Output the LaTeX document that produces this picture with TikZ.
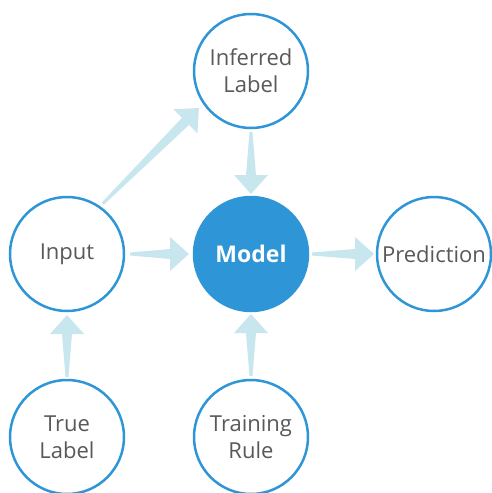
\documentclass[tikz,border=0pt]{standalone}
\usepackage{fontspec}
\setmainfont{Open Sans}
\usetikzlibrary{calc}

\definecolor{ringblue}{HTML}{2E96D6}
\definecolor{arrowfill}{HTML}{C8E6EE}
\definecolor{labelgray}{HTML}{595959}

% tapered block arrow between two circle nodes
% [perpendicular offset]{from}{to}{tail gap from centre}{tip gap from centre}
\newcommand\flowarrow[5][0]{%
  \pgfmathsetmacro\faTL{#1+1.5}\pgfmathsetmacro\faTR{#1-1.5}%
  \pgfmathsetmacro\faSL{#1+5}\pgfmathsetmacro\faSR{#1-5}%
  \pgfmathsetmacro\faHL{#1+17}\pgfmathsetmacro\faHR{#1-17}%
  \pgfmathsetmacro\faO{#1}\pgfmathsetmacro\faHB{#5+19}%
  \fill[arrowfill]
    ($(#2.center)!#4pt!(#3.center)!\faTL pt!90:(#3.center)$) --
    ($(#3.center)!\faHB pt!(#2.center)!\faSL pt!-90:(#2.center)$) --
    ($(#3.center)!\faHB pt!(#2.center)!\faHL pt!-90:(#2.center)$) --
    ($(#3.center)!#5pt!(#2.center)!\faO pt!-90:(#2.center)$) --
    ($(#3.center)!\faHB pt!(#2.center)!\faHR pt!-90:(#2.center)$) --
    ($(#3.center)!\faHB pt!(#2.center)!\faSR pt!-90:(#2.center)$) --
    ($(#2.center)!#4pt!(#3.center)!\faTR pt!90:(#3.center)$) -- cycle;%
}

\tikzset{
  ring/.style={circle, draw=ringblue, line width=2.5pt, fill=white,
    minimum size=114pt, inner sep=0pt, align=center,
    text=labelgray, font=\fontsize{22}{27}\selectfont},
  core/.style={ring, fill=ringblue, text=white,
    font=\fontsize{23}{27}\selectfont\bfseries}
}

\begin{document}
\begin{tikzpicture}[x=1pt,y=-1pt]
\useasboundingbox (0,0) rectangle (491,493);

\node[ring] (inferred) at (251,71)  {Inferred\\Label};
\node[ring] (input)    at (67,254)  {Input};
\node[core] (model)    at (251,254) {Model};
\node[ring] (pred)     at (434,254) {Prediction};
\node[ring] (truel)    at (67,437)  {True\\Label};
\node[ring] (rule)     at (251,437) {Training\\Rule};

\flowarrow{inferred}{model}{61}{60}
\flowarrow{input}{model}{63}{62}
\flowarrow{model}{pred}{61}{60}
\flowarrow{rule}{model}{61}{60}
\flowarrow{truel}{input}{60}{61}
\flowarrow[10.5]{input}{inferred}{61}{63}
\end{tikzpicture}
\end{document}
